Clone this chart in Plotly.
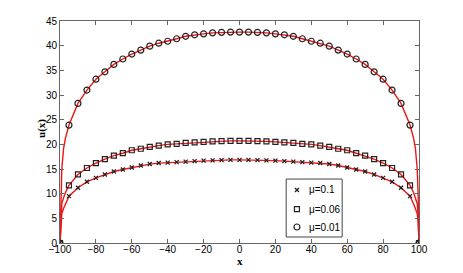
import plotly.graph_objects as go

# marker positions
x_mark = [-100, -95, -90, -85, -80, -75, -70, -65, -60, -55, -50, -45, -40, -35, -30, -25, -20, -15, -10, -5,
          0, 5, 10, 15, 20, 25, 30, 35, 40, 45, 50, 55, 60, 65, 70, 75, 80, 85, 90, 95, 100]

half_01 = [0, 9.5, 11.2, 12.4, 13.2, 13.9, 14.5, 14.9, 15.3, 15.7, 16.0, 16.2, 16.3, 16.4, 16.5, 16.6, 16.7, 16.75, 16.8, 16.85]
peak_01 = 16.85
half_006 = [0, 11.7, 13.9, 15.2, 16.2, 17.0, 17.7, 18.2, 18.8, 19.1, 19.5, 19.75, 20.0, 20.1, 20.3, 20.4, 20.5, 20.6, 20.65, 20.7]
peak_006 = 20.7
half_001 = [0, 23.9, 28.3, 31.0, 33.2, 34.7, 36.2, 37.3, 38.3, 39.1, 39.9, 40.5, 40.9, 41.4, 41.9, 42.2, 42.4, 42.6, 42.7, 42.75]
peak_001 = 42.75

u_01 = half_01 + [peak_01] + half_01[::-1]
u_006 = half_006 + [peak_006] + half_006[::-1]
u_001 = half_001 + [peak_001] + half_001[::-1]

# extra line-only points near the walls
x_edge = [-99.5, -99, -98, -97]
edge_01 = [4.5, 6.0, 7.0, 7.9]
edge_006 = [6.0, 8.0, 9.2, 10.2]
edge_001 = [10.0, 15.0, 19.2, 21.2]

legend_labels = ["\u03bc=0.1", "\u03bc=0.06", "\u03bc=0.01"]


def line_data(u, edge):
    pts = list(zip(x_mark, u))
    pts += list(zip(x_edge, edge))
    pts += [(-xx, v) for xx, v in zip(x_edge, edge)]
    pts.sort()
    return [p[0] for p in pts], [p[1] for p in pts]


fig = go.Figure()
red = "rgb(240,20,20)"
for u, edge in [(u_01, edge_01), (u_006, edge_006), (u_001, edge_001)]:
    lx, ly = line_data(u, edge)
    fig.add_trace(go.Scatter(x=lx, y=ly, mode="lines", line=dict(color=red, width=1.4),
                             showlegend=False, hoverinfo="skip"))

styles = [
    dict(symbol="x-thin", size=4, color="rgba(0,0,0,0)", line=dict(color="#222", width=1.3)),
    dict(symbol="square-open", size=5, color="#222", line=dict(color="#222", width=1.2)),
    dict(symbol="circle-open", size=6, color="#222", line=dict(color="#222", width=1.2)),
]
for u, st, lab in zip([u_01, u_006, u_001], styles, legend_labels):
    fig.add_trace(go.Scatter(x=x_mark, y=u, mode="markers", name=lab, marker=st, showlegend=False))

# hand-made legend (compact box like the original)
leg_x0, leg_x1, leg_y0, leg_y1 = 0.630, 0.786, 0.027, 0.288
row_y = [0.239, 0.153, 0.072]
fig.add_shape(type="rect", xref="x2", yref="y2", x0=leg_x0, x1=leg_x1, y0=leg_y0, y1=leg_y1,
              line=dict(color="#444", width=1), fillcolor="white", layer="below")
for yy, st, lab in zip(row_y, styles, legend_labels):
    fig.add_trace(go.Scatter(x=[0.660], y=[yy], mode="markers", marker=st, xaxis="x2", yaxis="y2",
                             showlegend=False, hoverinfo="skip"))
    fig.add_annotation(x=0.688, y=yy, xref="x2", yref="y2", text=lab, showarrow=False,
                       xanchor="left", yanchor="middle",
                       font=dict(family="Liberation Sans", size=10, color="black"))

# axis titles
fig.add_annotation(x=0.5, y=-0.081, xref="paper", yref="paper", text="<b>x</b>", showarrow=False,
                   xanchor="center", yanchor="middle",
                   font=dict(family="Liberation Serif", size=11, color="black"))
fig.add_annotation(x=-0.053, y=0.518, xref="paper", yref="paper", text="<b>u(x)</b>", showarrow=False,
                   xanchor="center", yanchor="middle", textangle=-90,
                   font=dict(family="Liberation Serif", size=11, color="black"))

axis_common = dict(showgrid=False, zeroline=False, showline=True, mirror="ticks",
                   linecolor="#666", linewidth=1, ticks="inside", ticklen=4, automargin=False,
                   tickcolor="#666", tickfont=dict(family="Liberation Sans", size=10, color="black"))

# the page adds an 8px body margin, so the figure is shrunk and shifted by that amount
fig.update_layout(
    width=455, height=265,
    margin=dict(l=52, r=44, t=13, b=30),
    paper_bgcolor="white", plot_bgcolor="white",
    xaxis=dict(range=[-100, 100], tickvals=[-100, -80, -60, -40, -20, 0, 20, 40, 60, 80, 100],
               ticklabelstandoff=-3, **axis_common),
    yaxis=dict(range=[0, 45], tickvals=[0, 5, 10, 15, 20, 25, 30, 35, 40, 45],
               **axis_common),
    xaxis2=dict(range=[0, 1], overlaying="x", visible=False, fixedrange=True),
    yaxis2=dict(range=[0, 1], overlaying="y", visible=False, fixedrange=True),
    showlegend=False,
)

fig.write_html("out.html")
